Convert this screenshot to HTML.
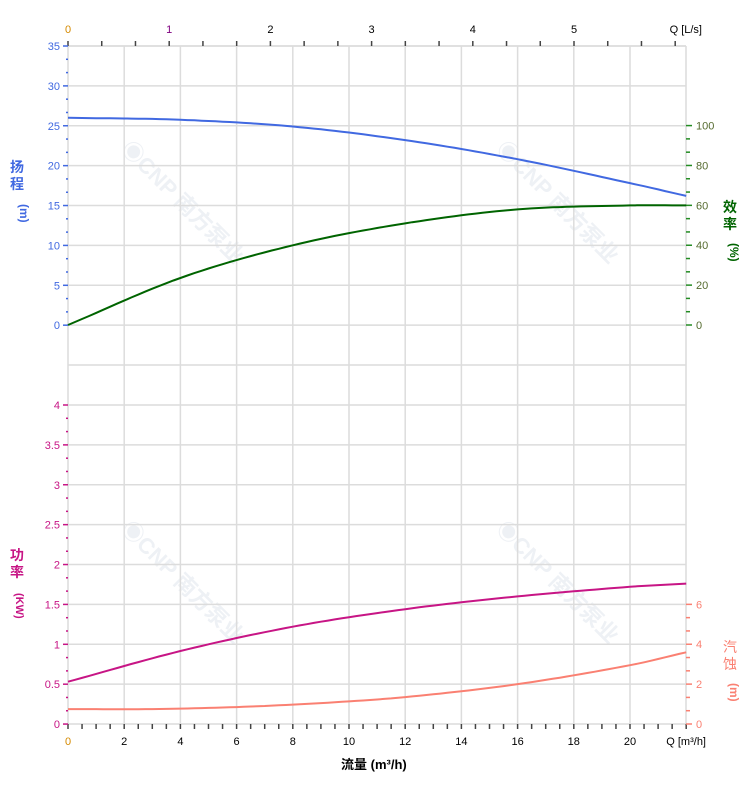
<!DOCTYPE html>
<html><head><meta charset="utf-8">
<style>
html,body{margin:0;padding:0;background:#fff;}
svg{display:block;font-family:"Liberation Sans","Noto Sans CJK SC",sans-serif;}
</style></head>
<body>
<svg id="s" width="752" height="797" viewBox="0 0 752 797" xmlns="http://www.w3.org/2000/svg">
<g id="wm" fill="#eef1f5" font-size="22" font-weight="bold">
<text transform="translate(120,150) rotate(45)">◉CNP 南方泵业</text>
<text transform="translate(495,150) rotate(45)">◉CNP 南方泵业</text>
<text transform="translate(120,530) rotate(45)">◉CNP 南方泵业</text>
<text transform="translate(495,530) rotate(45)">◉CNP 南方泵业</text>
</g>
<g id="grid" stroke="#dcdcdc" stroke-width="1.5"></g>
<g id="axes"></g>
<g id="curves" fill="none" stroke-width="2"></g>
<g font-size="14" font-weight="bold">
<text x="10" y="172" fill="#4169e1">扬</text>
<text x="10" y="189" fill="#4169e1">程</text>
<text x="10" y="206" fill="#4169e1" font-size="12" transform="rotate(90,16,210)">(m)</text>
<text x="10" y="560" fill="#c71585">功</text>
<text x="10" y="577" fill="#c71585">率</text>
<text x="6" y="605" fill="#c71585" font-size="11" transform="rotate(90,17,604)">(KW)</text>
<text x="723" y="212" fill="#006400">效</text>
<text x="723" y="229" fill="#006400">率</text>
<text x="723" y="250" fill="#006400" font-size="12" transform="rotate(90,730,250)">(%)</text>
<text x="723" y="652" fill="#fa8072" font-weight="normal">汽</text>
<text x="723" y="669" fill="#fa8072" font-weight="normal">蚀</text>
<text x="723" y="690" fill="#fa8072" font-size="12" transform="rotate(90,730,690)">(m)</text>
<text x="341" y="769" fill="#000" font-size="13">流量 (m³/h)</text>
</g>
</svg>
<script>
var NS="http://www.w3.org/2000/svg";
function el(p,t,a,txt){var e=document.createElementNS(NS,t);for(var k in a)e.setAttribute(k,a[k]);if(txt!==undefined)e.textContent=txt;document.getElementById(p).appendChild(e);return e;}
var X0=68,X1=686,sx=28.1;
function X(q){return X0+q*sx;}
var gs=(724-46)/17;
for(var i=0;i<=17;i++){var y=46+i*gs;el("grid","line",{x1:X0,x2:X1,y1:y,y2:y});}
for(var q=2;q<=20;q+=2)el("grid","line",{x1:X(q),x2:X(q),y1:46,y2:724});
el("grid","line",{x1:X1,x2:X1,y1:46,y2:724});
el("grid","line",{x1:X0,x2:X1,y1:46,y2:46});
el("grid","line",{x1:X0,x2:X0,y1:46,y2:724});
for(var k=0;k<=18;k++){var x=X0+k*101.2/3;if(x>X1+1)break;el("axes","line",{x1:x,x2:x,y1:41,y2:46,stroke:"#444","stroke-width":1.5});}
for(var k=0;k<=5;k++)el("axes","text",{x:X0+k*101.2,y:33,"font-size":11,"text-anchor":"middle",fill:k==0?"#d58a00":(k==1?"#800080":"#000")},""+k);
el("axes","text",{x:702,y:33,"font-size":11,"text-anchor":"end",fill:"#000"},"Q [L/s]");
for(var k=0;k<=44;k++){var x=X0+k*sx/2;el("axes","line",{x1:x,x2:x,y1:724,y2:729,stroke:"#444","stroke-width":1.5});}
for(var q=0;q<=20;q+=2)el("axes","text",{x:X(q),y:745,"font-size":11,"text-anchor":"middle",fill:q==0?"#d58a00":"#000"},""+q);
el("axes","text",{x:706,y:745,"font-size":11,"text-anchor":"end",fill:"#000"},"Q [m³/h]");
for(var i=0;i<=21;i++){var y=46+i*gs/3,maj=i%3==0;el("axes","line",{x1:maj?63:66,x2:68,y1:y,y2:y,stroke:"#4169e1","stroke-width":1.5});
 if(maj)el("axes","text",{x:60,y:y+4,"font-size":11,"text-anchor":"end",fill:"#4169e1"},""+(35-i/3*5));}
for(var i=0;i<=24;i++){var y=405+i*gs/3,maj=i%3==0;el("axes","line",{x1:maj?63:66,x2:68,y1:y,y2:y,stroke:"#c71585","stroke-width":1.5});
 if(maj)el("axes","text",{x:60,y:y+4,"font-size":11,"text-anchor":"end",fill:"#c71585"},""+(4-i/3*0.5));}
for(var i=0;i<=15;i++){var y=325-i*gs/3,maj=i%3==0;el("axes","line",{x1:686,x2:maj?692:690,y1:y,y2:y,stroke:"#228b22","stroke-width":1.5});
 if(maj)el("axes","text",{x:696,y:y+4,"font-size":11,fill:"#556b2f"},""+(i/3*20));}
for(var i=0;i<=9;i++){var y=724-i*gs/3,maj=i%3==0;el("axes","line",{x1:686,x2:maj?692:690,y1:y,y2:y,stroke:"#fa8072","stroke-width":1.5});
 if(maj)el("axes","text",{x:696,y:y+4,"font-size":11,fill:"#fa8072"},""+(i/3*2));}
function curve(pts,fy,col){
 var d="";for(var q=0;q<=22.001;q+=0.25){var v=interp(pts,q);d+=(q==0?"M":"L")+X(q).toFixed(1)+","+fy(v).toFixed(1);}
 el("curves","path",{d:d,stroke:col});}
function interp(p,q){var i=0;while(i<p.length-2&&q>p[i+1][0])i++;
 var p0=p[Math.max(i-1,0)],p1=p[i],p2=p[i+1],p3=p[Math.min(i+2,p.length-1)];
 var t=(q-p1[0])/(p2[0]-p1[0]);var h=p2[0]-p1[0];
 var m1=(p2[1]-p0[1])/(p2[0]-p0[0])*h,m2=(p3[1]-p1[1])/(p3[0]-p1[0])*h;
 var t2=t*t,t3=t2*t;return (2*t3-3*t2+1)*p1[1]+(t3-2*t2+t)*m1+(-2*t3+3*t2)*p2[1]+(t3-t2)*m2;}
curve([[0,26],[4,25.75],[8,24.9],[12,23.2],[16,20.8],[20,17.8],[22,16.2]],function(v){return 325-v*7.97;},"#4169e1");
curve([[0,0],[4,23.6],[8,40],[12,51],[16,58],[20,60],[22,60]],function(v){return 325-v*1.993;},"#006400");
curve([[0,0.53],[4,0.915],[8,1.22],[12,1.44],[16,1.6],[20,1.72],[22,1.76]],function(v){return 724-v*79.75;},"#c71585");
curve([[0,0.75],[3,0.75],[6,0.85],[9,1.05],[12,1.35],[16,2.0],[20,2.95],[22,3.6]],function(v){return 724-v*19.93;},"#fa8072");
</script>
</body></html>
